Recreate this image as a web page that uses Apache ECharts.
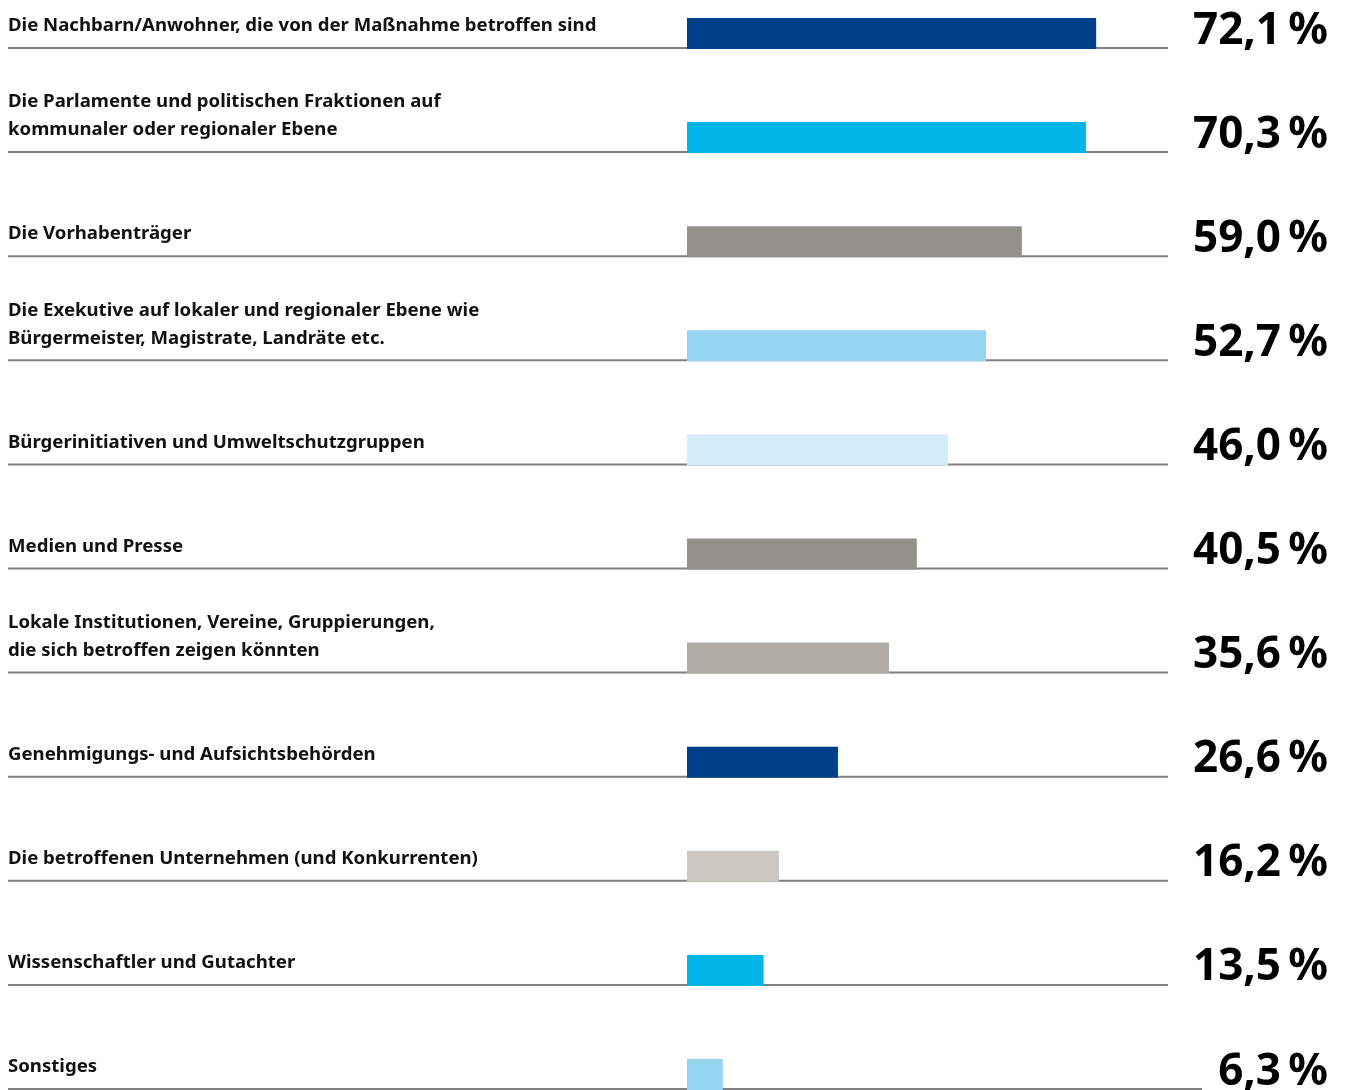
<!DOCTYPE html>
<html><head><meta charset="utf-8">
<script src="https://cdn.jsdelivr.net/npm/echarts@6/dist/echarts.min.js"></script>
<style>html,body{margin:0;padding:0;background:#fff}#c{width:1347px;height:1090px}</style>
</head><body><div id="c"></div>
<script>
var categories = [
  "Die Nachbarn/Anwohner, die von der Maßnahme betroffen sind",
  "Die Parlamente und politischen Fraktionen auf\nkommunaler oder regionaler Ebene",
  "Die Vorhabenträger",
  "Die Exekutive auf lokaler und regionaler Ebene wie\nBürgermeister, Magistrate, Landräte etc.",
  "Bürgerinitiativen und Umweltschutzgruppen",
  "Medien und Presse",
  "Lokale Institutionen, Vereine, Gruppierungen,\ndie sich betroffen zeigen könnten",
  "Genehmigungs- und Aufsichtsbehörden",
  "Die betroffenen Unternehmen (und Konkurrenten)",
  "Wissenschaftler und Gutachter",
  "Sonstiges"
];
var values = [72.1, 70.3, 59.0, 52.7, 46.0, 40.5, 35.6, 26.6, 16.2, 13.5, 6.3];
var valueLabels = ["72,1\u2009%", "70,3\u2009%", "59,0\u2009%", "52,7\u2009%", "46,0\u2009%", "40,5\u2009%", "35,6\u2009%", "26,6\u2009%", "16,2\u2009%", "13,5\u2009%", "6,3\u2009%"];
var colors = ["#00408a", "#00b6e8", "#93918c", "#95d5f2", "#d2ecf9", "#93918c", "#b1ada6", "#00408a", "#ccc8c1", "#00b6e8", "#95d5f2"];

var data = values.map(function (v, i) { return [v, i]; });
var n = categories.length;

var chart = echarts.init(document.getElementById('c'));
chart.setOption({
  animation: false,
  grid: { left: 8, right: 179, top: 0, bottom: 0 },
  xAxis: { type: 'value', min: -119.65, max: 84.76, show: false },
  yAxis: { type: 'value', inverse: true, min: -0.4611, max: 10.0096, show: false },
  series: [{
    type: 'custom',
    data: data,
    clip: false,
    renderItem: function (params, api) {
      var v = api.value(0), i = api.value(1);
      var cs = params.coordSys;
      var p0 = api.coord([0, i]);
      var p1 = api.coord([v, i]);
      var y = p0[1];
      var lineEnd = cs.x + cs.width + (i === n - 1 ? 34 : 0);
      return {
        type: 'group',
        children: [
          { type: 'line', shape: { x1: cs.x, y1: y, x2: lineEnd, y2: y },
            style: { stroke: '#808080', lineWidth: 2 } },
          { type: 'rect', shape: { x: p0[0], y: y - 30, width: p1[0] - p0[0], height: 31 },
            style: { fill: colors[i] } },
          { type: 'text', x: cs.x, y: y - 8,
            style: { text: categories[i], fill: '#111', font: 'bold 18.6px "Noto Sans"',
              verticalAlign: 'bottom', align: 'left', lineHeight: 28 } },
          { type: 'text', x: cs.x + cs.width + 160, y: y + 5,
            style: { text: valueLabels[i], fill: '#000', font: 'bold 44px "Noto Sans"',
              verticalAlign: 'bottom', align: 'right' } }
        ]
      };
    }
  }]
});
</script></body></html>
